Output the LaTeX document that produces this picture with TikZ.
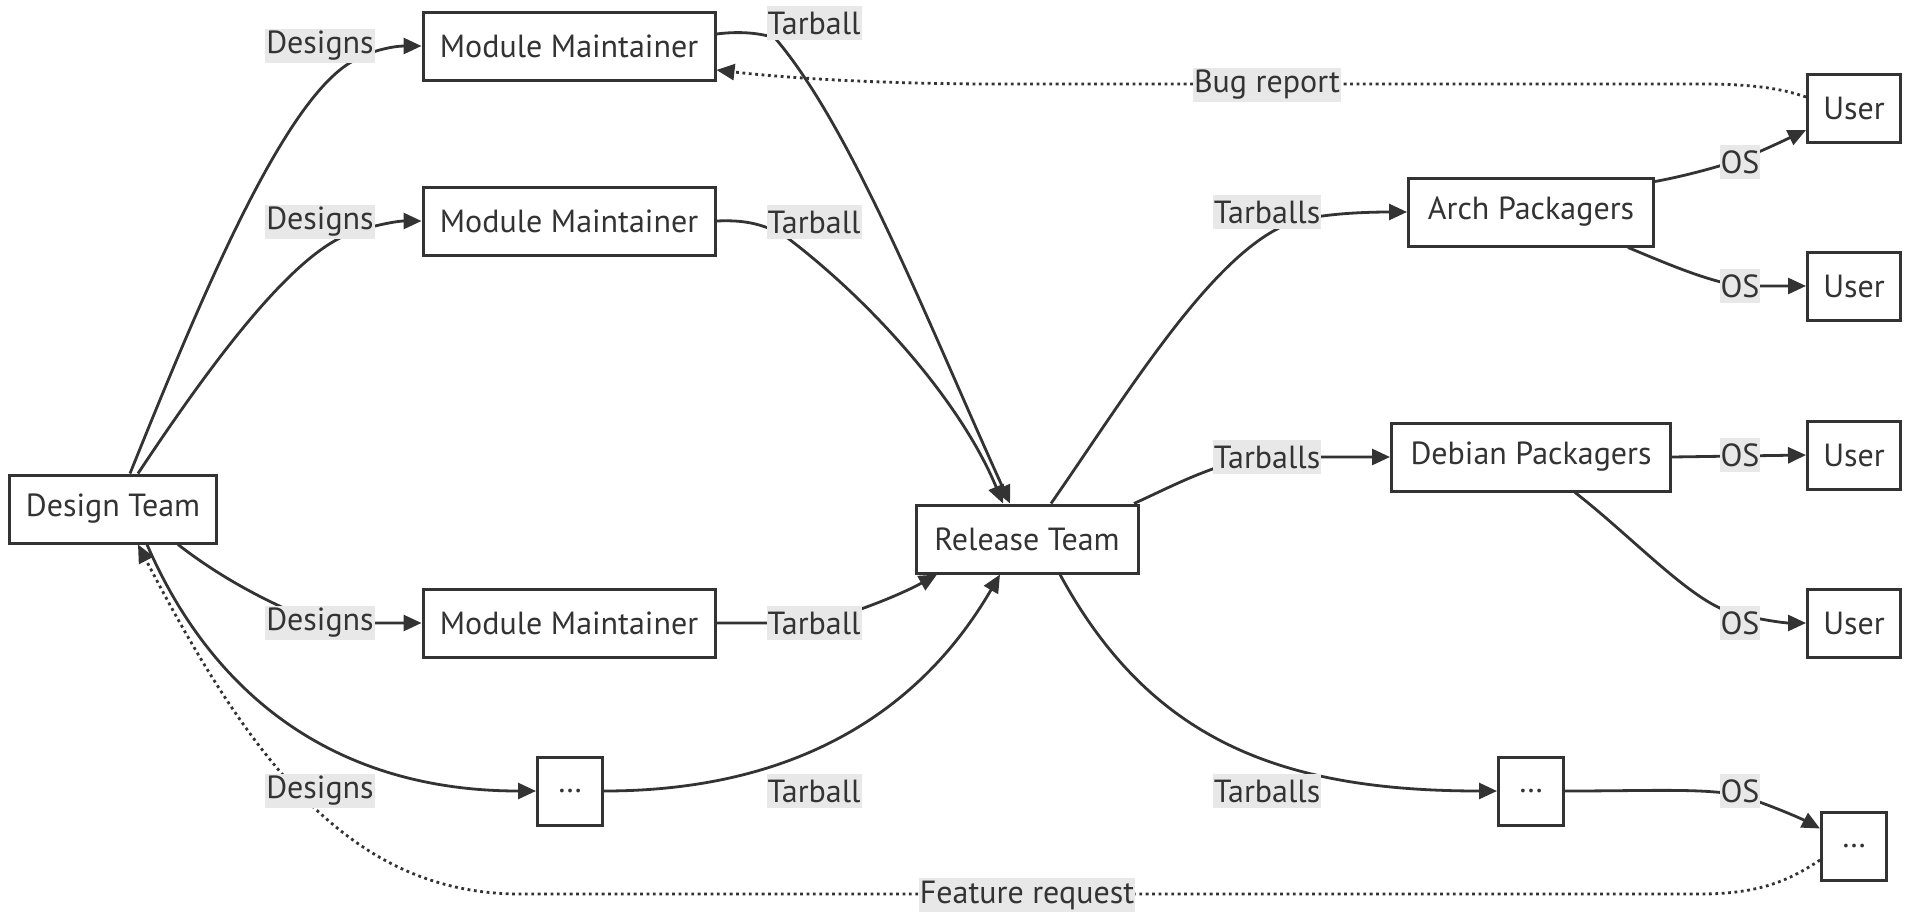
\documentclass[tikz,border=0pt]{standalone}
\usepackage{fontspec}
\setmainfont{PT Sans}
\usetikzlibrary{arrows.meta}
\definecolor{ink}{HTML}{333333}
\definecolor{lblbg}{HTML}{E8E8E8}
\begin{document}
\begin{tikzpicture}[x=1pt,y=-1pt,
  box/.style={draw=ink, line width=3pt, fill=white, text=ink, minimum height=68pt, inner sep=0pt, font=\fontsize{32}{38}\selectfont},
  lbl/.style={fill=lblbg, text=ink, inner xsep=1pt, inner ysep=0pt, minimum height=34pt, font=\fontsize{32}{38}\selectfont},
  edge/.style={draw=ink, line width=2.8pt, -{Triangle[length=18pt,width=16pt]}},
  dotedge/.style={edge, dash pattern=on 2.8pt off 3.6pt},
]
\fill[white] (0,0) rectangle (1911,913);
\useasboundingbox (0,0) rectangle (1911,913);

% nodes
\node[box, minimum width=207pt] (DT) at (113,509) {Design Team};
\node[box, minimum width=292pt] (MM1) at (569,46) {Module Maintainer};
\node[box, minimum width=292pt] (MM2) at (569,221) {Module Maintainer};
\node[box, minimum width=292pt] (MM3) at (569,623) {Module Maintainer};
\node[box, minimum width=65pt] (DL) at (570,791) {\dots};
\node[box, minimum width=222pt] (RT) at (1027,539) {Release Team};
\node[box, minimum width=245pt] (AP) at (1531,212) {Arch Packagers};
\node[box, minimum width=279pt] (DP) at (1531,457) {Debian Packagers};
\node[box, minimum width=93pt] (U1) at (1854,108) {User};
\node[box, minimum width=93pt] (U2) at (1854,286) {User};
\node[box, minimum width=93pt] (U3) at (1854,455) {User};
\node[box, minimum width=93pt] (U4) at (1854,623) {User};
\node[box, minimum width=65pt] (DM) at (1531,791) {\dots};
\node[box, minimum width=65pt] (DR) at (1854,846) {\dots};

% edges
\draw[edge] ([xshift=17pt]DT.north) .. controls (200,300) and (285,95) .. (355,60) .. controls (372,50) and (395,46) .. (MM1.west);
\draw[edge] ([xshift=25pt]DT.north) .. controls (200,380) and (280,268) .. (340,238) .. controls (360,228) and (395,221) .. (MM2.west);
\draw[edge] ([xshift=65pt]DT.south) .. controls (230,585) and (285,610) .. (320,623) -- (MM3.west);
\draw[edge] ([xshift=34pt]DT.south) .. controls (210,690) and (330,791) .. (DL.west);

\draw[edge] ([yshift=12pt]MM1.east) .. controls (740,31) and (760,33) .. (775,38) .. controls (852,128) and (928,323) .. ([xshift=-17pt]RT.north);
\draw[edge] (MM2.east) .. controls (740,220) and (760,222) .. (785,236) .. controls (870,300) and (960,400) .. ([xshift=-24pt]RT.north);
\draw[edge] (MM3.east) -- (814,623) .. controls (850,615) and (900,595) .. ([xshift=-90pt]RT.south);
\draw[edge] (DL.east) .. controls (850,791) and (950,660) .. ([xshift=-27pt]RT.south);

\draw[edge] ([xshift=24pt]RT.north) .. controls (1130,390) and (1220,240) .. (1300,220) .. controls (1330,213) and (1370,212) .. (AP.west);
\draw[edge] ([xshift=107pt]RT.north) .. controls (1175,485) and (1220,460) .. (1267,457) -- (DP.west);
\draw[edge] ([xshift=33pt]RT.south) .. controls (1150,740) and (1280,791) .. (DM.west);

\draw[edge] ([yshift=-5pt]AP.north east) .. controls (1690,175) and (1720,166) .. (1739,160) .. controls (1760,152) and (1785,140) .. ([yshift=-22pt]U1.west);
\draw[edge] ([xshift=-27pt]AP.south east) .. controls (1670,265) and (1705,280) .. (1739,286) -- (U2.west);
\draw[edge] (DP.east) -- (U3.west);
\draw[edge] ([xshift=44pt]DP.south) .. controls (1630,535) and (1690,600) .. (1730,612) .. controls (1760,620) and (1785,623) .. (U4.west);
\draw[edge] (DM.east) .. controls (1650,791) and (1700,788) .. (1739,795) .. controls (1770,805) and (1800,818) .. ([yshift=-18pt]DR.north west);

\draw[dotedge] ([yshift=11pt]U1.west) .. controls (1780,88) and (1750,84) .. (1700,84) -- (1000,84) .. controls (850,84) and (760,75) .. ([yshift=-24pt]MM1.east);
\draw[dotedge] ([yshift=-14pt]DR.west) .. controls (1790,880) and (1760,894) .. (1700,894) -- (520,894) .. controls (350,894) and (250,760) .. ([xshift=25pt]DT.south);

% labels
\node[lbl] (ld1) at (320,46) {Designs};
\node[lbl] (ld2) at (320,222) {Designs};
\node[lbl] (ld3) at (320,623) {Designs};
\node[lbl] (ld4) at (320,791) {Designs};
\node[lbl] (lt1) at (814,23) {Tarball};
\node[lbl] (lt2) at (814,222) {Tarball};
\node[lbl] (lt3) at (814,623) {Tarball};
\node[lbl] (lt4) at (814,791) {Tarball};
\node[lbl] (ls1) at (1267,212) {Tarballs};
\node[lbl] (ls2) at (1267,457) {Tarballs};
\node[lbl] (ls3) at (1267,791) {Tarballs};
\node[lbl] (lo1) at (1740,162) {OS};
\node[lbl] (lo2) at (1740,286) {OS};
\node[lbl] (lo3) at (1740,455) {OS};
\node[lbl] (lo4) at (1740,623) {OS};
\node[lbl] (lo5) at (1740,791) {OS};
\node[lbl] (lbug) at (1267,85) {Bug report};
\node[lbl] (lfeat) at (1027,895) {Feature request};
\end{tikzpicture}
\end{document}
